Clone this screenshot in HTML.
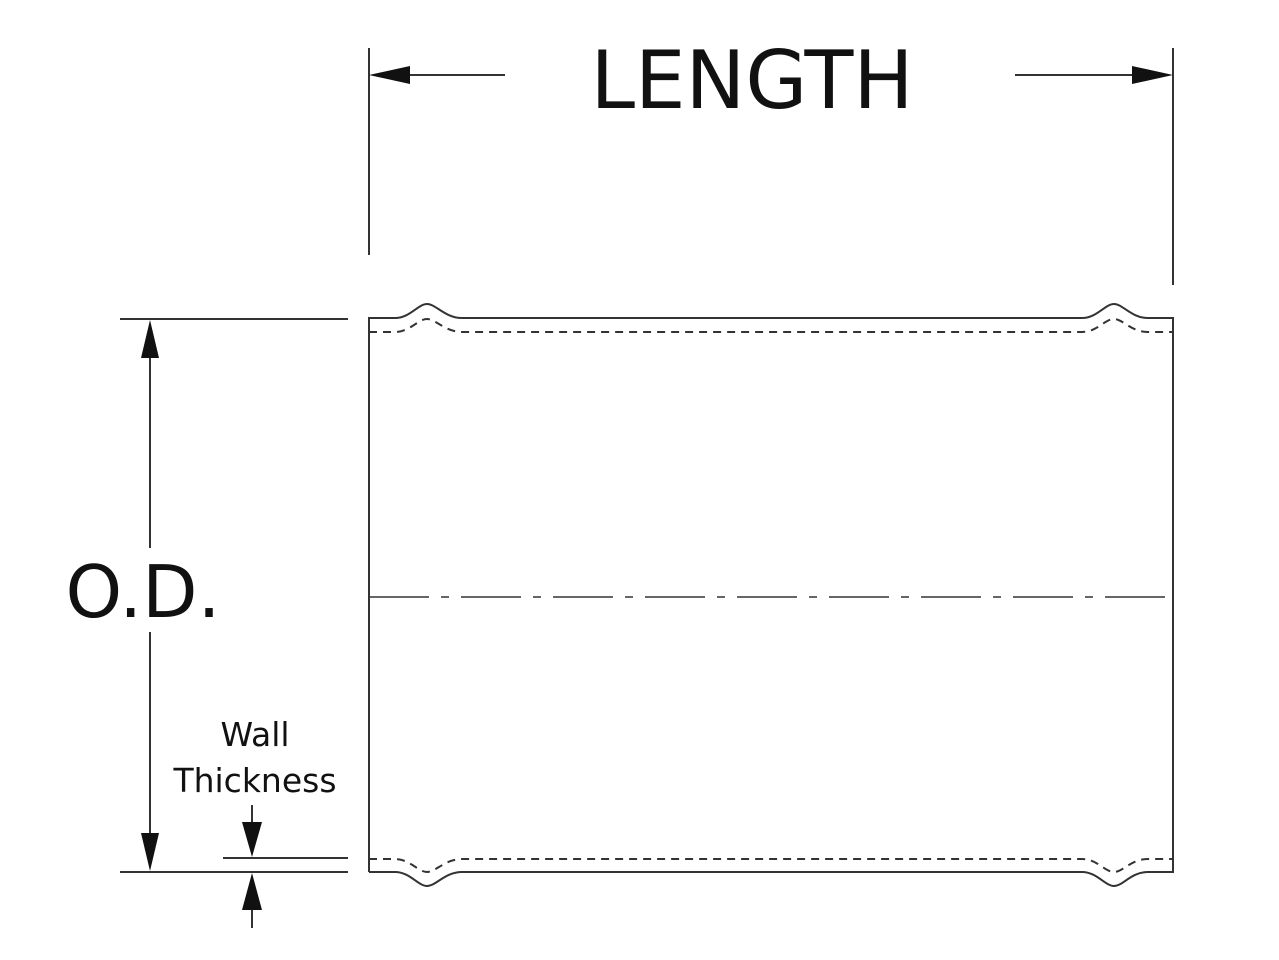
<!DOCTYPE html>
<html><head><meta charset="utf-8"><style>
html,body{margin:0;padding:0;background:#fff;}
svg{display:block;}
text{font-family:"DejaVu Sans","Liberation Sans",sans-serif;fill:#111;}
</style></head><body>
<svg width="1279" height="960" viewBox="0 0 1279 960" xmlns="http://www.w3.org/2000/svg">
<g stroke="#333" stroke-width="2" fill="none">
<line x1="369" y1="48" x2="369" y2="255"/>
<line x1="1173" y1="48" x2="1173" y2="285"/>
<line x1="395" y1="75" x2="505" y2="75"/>
<line x1="1015" y1="75" x2="1150" y2="75"/>
<path d="M369,872 L369,318 L395,318 C410,318 418,304 427,304 C436,304 445,318 462,318 L1082,318 C1097,318 1105,304 1114,304 C1123,304 1131,318 1148,318 L1173,318 L1173,872 L1148,872 C1131,872 1123,886 1114,886 C1105,886 1097,872 1082,872 L462,872 C445,872 436,886 427,886 C418,886 410,872 395,872 L369,872"/>
<path stroke-dasharray="8,6" d="M369,332 L395,332 C410,332 418,319 427,319 C436,319 445,332 462,332 L1082,332 C1097,332 1105,319 1114,319 C1123,319 1131,332 1148,332 L1173,332"/>
<path stroke-dasharray="8,6" d="M369,859 L395,859 C410,859 418,872 427,872 C436,872 445,859 462,859 L1082,859 C1097,859 1105,872 1114,872 C1123,872 1131,859 1148,859 L1173,859"/>
<line x1="369" y1="597" x2="1173" y2="597" stroke-dasharray="60,12,8,12" stroke-width="1.6"/>
<line x1="120" y1="319" x2="348" y2="319"/>
<line x1="120" y1="872" x2="348" y2="872"/>
<line x1="150" y1="350" x2="150" y2="548"/>
<line x1="150" y1="632" x2="150" y2="842"/>
<line x1="223" y1="858" x2="348" y2="858"/>
<line x1="252" y1="805" x2="252" y2="830"/>
<line x1="252" y1="900" x2="252" y2="928"/>
</g>
<g fill="#111">
<polygon points="369,75 410,66 410,84"/>
<polygon points="1173,75 1132,66 1132,84"/>
<polygon points="150,320 141,358 159,358"/>
<polygon points="150,871 141,833 159,833"/>
<polygon points="252,857 242,822 262,822"/>
<polygon points="252,873 242,910 262,910"/>
</g>
<text x="752" y="108" font-size="80" text-anchor="middle">LENGTH</text>
<text x="143" y="617" font-size="72" text-anchor="middle">O.D.</text>
<text x="255" y="746" font-size="33" text-anchor="middle">Wall</text>
<text x="255" y="792" font-size="33" text-anchor="middle">Thickness</text>
</svg>
</body></html>
